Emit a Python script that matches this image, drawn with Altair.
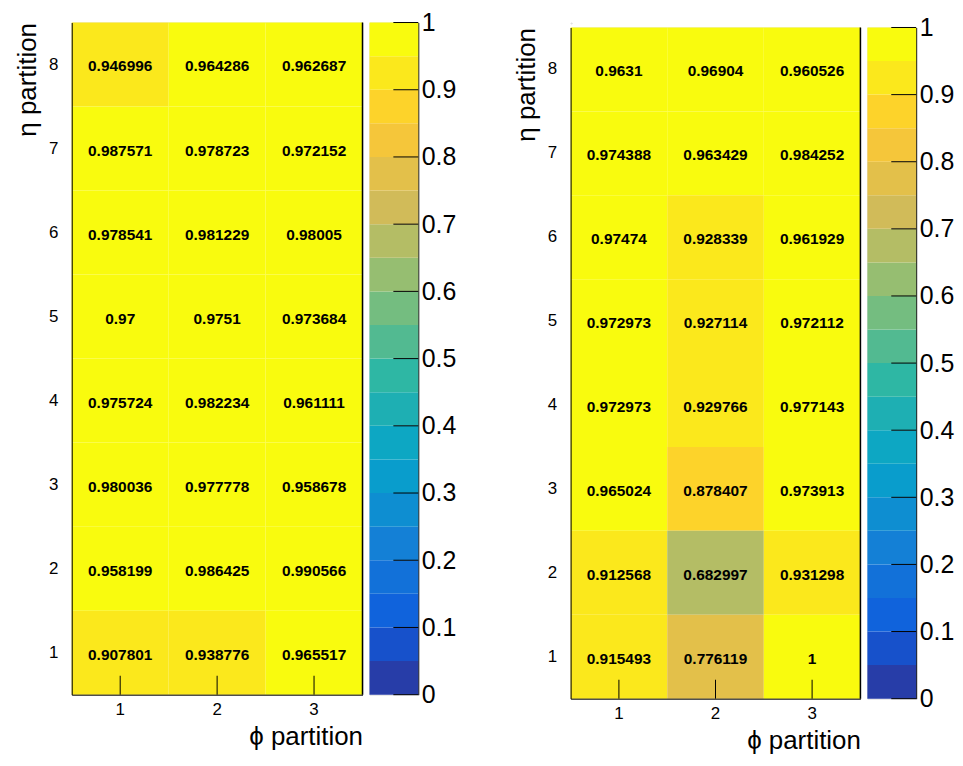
import altair as alt
import pandas as pd

# ---------------- data ----------------
ETA_BINS = [8, 7, 6, 5, 4, 3, 2, 1]          # rows, top to bottom
PHI_BINS = [1, 2, 3]                         # columns, left to right

LEFT_EFF = [
    [0.946996, 0.964286, 0.962687],
    [0.987571, 0.978723, 0.972152],
    [0.978541, 0.981229, 0.98005],
    [0.97, 0.9751, 0.973684],
    [0.975724, 0.982234, 0.961111],
    [0.980036, 0.977778, 0.958678],
    [0.958199, 0.986425, 0.990566],
    [0.907801, 0.938776, 0.965517],
]

RIGHT_EFF = [
    [0.9631, 0.96904, 0.960526],
    [0.974388, 0.963429, 0.984252],
    [0.97474, 0.928339, 0.961929],
    [0.972973, 0.927114, 0.972112],
    [0.972973, 0.929766, 0.977143],
    [0.965024, 0.878407, 0.973913],
    [0.912568, 0.682997, 0.931298],
    [0.915493, 0.776119, 1.0],
]

Z_TICKS = [0, 0.1, 0.2, 0.3, 0.4, 0.5, 0.6, 0.7, 0.8, 0.9, 1]
Z_LEVELS = [0, 0.05, 0.1, 0.15, 0.2, 0.25, 0.3, 0.35, 0.4, 0.45, 0.5,
            0.55, 0.6, 0.65, 0.7, 0.75, 0.8, 0.85, 0.9, 0.95, 1.0]

# ---------------- palette (ROOT kBird, 20 contour bands) ----------------
_ST = [0.0, 0.125, 0.25, 0.375, 0.5, 0.625, 0.75, 0.875, 1.0]
_R = [0.2082, 0.0592, 0.0780, 0.0232, 0.1802, 0.5301, 0.8186, 0.9956, 0.9764]
_G = [0.1664, 0.3599, 0.5041, 0.6419, 0.7178, 0.7492, 0.7328, 0.7862, 0.9832]
_B = [0.5293, 0.8684, 0.8385, 0.7914, 0.6425, 0.4662, 0.3499, 0.1968, 0.0539]


def bird(t):
    for k in range(len(_ST) - 1):
        if t <= _ST[k + 1]:
            f = (t - _ST[k]) / (_ST[k + 1] - _ST[k])
            break
    else:
        k, f = len(_ST) - 2, 1.0
    c = [a[k] + (a[k + 1] - a[k]) * f for a in (_R, _G, _B)]
    return "#%02x%02x%02x" % tuple(int(round(v * 255)) for v in c)


NB = len(Z_LEVELS) - 1
BAND_COLORS = [bird(int((i + 0.99) * 255 / NB) / 254) for i in range(NB)]
COLOR_SCALE = alt.Scale(type="threshold", domain=Z_LEVELS[1:-1], range=BAND_COLORS)

FONT = "Liberation Sans"


def panel(eff, hw, hh, cw):
    df = pd.DataFrame(
        [{"eta": e, "phi": p, "eff": eff[r][c]}
         for r, e in enumerate(ETA_BINS) for c, p in enumerate(PHI_BINS)]
    )
    xs = alt.Scale(domain=PHI_BINS, paddingInner=0, paddingOuter=0)
    ys = alt.Scale(domain=ETA_BINS, paddingInner=0, paddingOuter=0)
    x_enc = alt.X(
        "phi:O", scale=xs,
        axis=alt.Axis(title="ϕ partition", labelAngle=0, ticks=False, labelPadding=7,
                      labelFontSize=17, titleFontSize=26, titleFontWeight="normal",
                      titleAnchor="end", titlePadding=6, domainColor="black",
                      labelColor="black", titleColor="black"))
    y_enc = alt.Y(
        "eta:O", scale=ys,
        axis=alt.Axis(title="η partition", labelAngle=0, ticks=False, labelPadding=14,
                      labelFontSize=17, titleFontSize=26, titleFontWeight="normal",
                      titleAnchor="start", titleAlign="right", titlePadding=8,
                      domainColor="black", labelColor="black", titleColor="black"))
    base = alt.Chart(df)
    rect = base.mark_rect().encode(
        x=x_enc, y=y_enc,
        color=alt.Color("eff:Q", scale=COLOR_SCALE, legend=None))
    text = base.mark_text(font=FONT, fontWeight="bold", fontSize=15.5, color="black", dy=2).encode(
        x=alt.X("phi:O", scale=xs), y=alt.Y("eta:O", scale=ys),
        text=alt.Text("eff:Q", format=".6~g"))
    ticks = alt.Chart(pd.DataFrame({"phi": PHI_BINS})).mark_rule(color="black", strokeWidth=1).encode(
        x=alt.X("phi:O", scale=xs), y=alt.value(hh), y2=alt.value(hh - 19))
    edge = alt.Chart(pd.DataFrame({"k": [0]})).mark_rule(color="black", strokeWidth=1.5).encode(
        x=alt.value(hw), y=alt.value(0), y2=alt.value(hh))
    heat = alt.layer(rect, text, ticks, edge).properties(width=hw, height=hh)

    band_df = pd.DataFrame({"lo": Z_LEVELS[:-1], "hi": Z_LEVELS[1:]})
    band_df["mid"] = (band_df["lo"] + band_df["hi"]) / 2
    zs = alt.Scale(domain=[0, 1], nice=False, zero=False)
    z_axis = alt.Axis(orient="right", values=Z_TICKS, format="~g", tickSize=0,
                      labelFontSize=25, labelPadding=3, labelFlush=False, grid=False,
                      title=None, domainColor="black", labelColor="black")
    bands = alt.Chart(band_df).mark_rect().encode(
        y=alt.Y("lo:Q", scale=zs, axis=z_axis),
        y2="hi:Q",
        x=alt.value(0), x2=alt.value(cw),
        color=alt.Color("mid:Q", scale=COLOR_SCALE, legend=None))
    cticks = alt.Chart(pd.DataFrame({"z": Z_TICKS})).mark_rule(color="black", strokeWidth=1).encode(
        y=alt.Y("z:Q", scale=zs, axis=z_axis), x=alt.value(cw - 25), x2=alt.value(cw))
    cbar = alt.layer(bands, cticks).properties(width=cw, height=hh)
    return alt.hconcat(heat, cbar, spacing=4)


left = panel(LEFT_EFF, 292, 675, 49)
spacer = alt.Chart(pd.DataFrame({"k": [0]})).mark_point(opacity=0).encode(
    x=alt.value(0), y=alt.value(0)).properties(width=1, height=1)
right = alt.vconcat(spacer, panel(RIGHT_EFF, 291, 674, 49), spacing=4, bounds="flush")

chart = alt.hconcat(left, right, spacing=56).properties(
    padding={"left": 6, "top": 0, "right": 0, "bottom": 0}
).configure_view(stroke=None).configure(font=FONT)

chart.save("out.html", embed_options={"renderer": "svg", "actions": False})
